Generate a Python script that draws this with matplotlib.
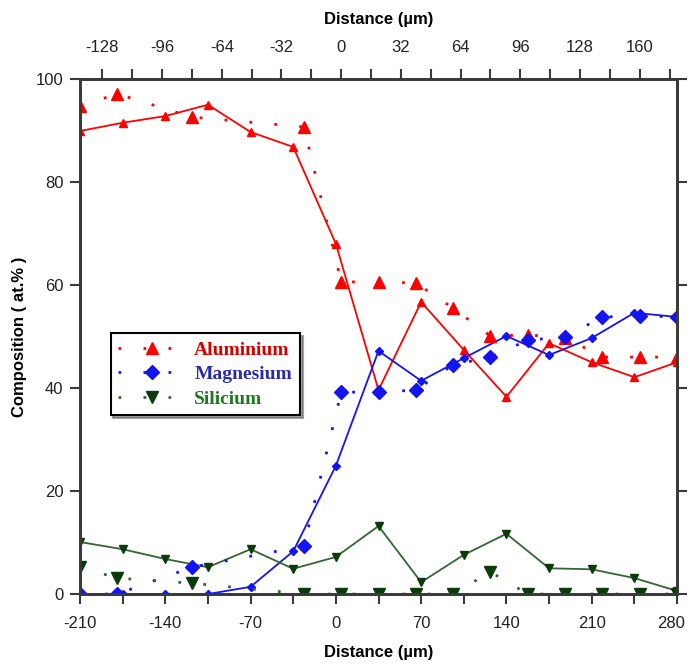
import numpy as np
import matplotlib
matplotlib.use("Agg")
import matplotlib.pyplot as plt
import matplotlib.transforms as mtransforms
from matplotlib.lines import Line2D

plt.rcParams['font.family'] = ['Liberation Sans', 'DejaVu Sans']
plt.rcParams['axes.unicode_minus'] = False

# profil 1 (axe du bas, lignes pleines)
x_bas = [-210, -175, -140, -105, -70, -35, 0, 35, 70, 105, 140, 175, 210, 245, 280]
al_bas = [89.9, 91.5, 92.8, 95.0, 89.7, 86.8, 68.0, 39.6, 56.7, 47.4, 38.3, 48.7, 45.0, 42.1, 45.0]
mg_bas = [0, 0, 0, 0, 1.4, 8.3, 24.9, 47.2, 41.4, 45.8, 50.1, 46.4, 49.7, 54.6, 53.8]
si_bas = [10.1, 8.7, 6.8, 5.2, 8.7, 4.9, 7.2, 13.2, 2.3, 7.6, 11.7, 5.0, 4.8, 3.1, 0.6]

# profil 2 (axe du haut, pointillés)
x_haut = [-140, -120, -80, -20, 0, 20, 40, 60, 80, 100, 120, 140, 160, 180]
al_haut = [94.8, 97.1, 92.6, 90.7, 60.6, 60.6, 60.4, 55.5, 50.1, 50.3, 49.8, 46.0, 46.0, 46.0]
mg_haut = [0, 0, 5.2, 9.3, 39.2, 39.2, 39.6, 44.5, 46.0, 49.3, 49.9, 53.8, 54.0, 53.8]
si_haut = [5.2, 3.1, 2.1, 0, 0, 0, 0, 0, 4.3, 0, 0, 0, 0, 0]

rouge = '#ff0000'
bleu = '#1414f0'
vert_l = '#336633'
vert_m = '#0b3a0b'

fig = plt.figure(figsize=(6.88, 6.67), dpi=100)
ax = fig.add_axes([0.1163, 0.1094, 0.8677, 0.7722])
ax2 = ax.twiny()

pointille = (0, (1, 8))

ax2.plot(x_haut, al_haut, linestyle=pointille, lw=2, color=rouge, marker='^', ms=9, mec=rouge)
ax2.plot(x_haut, mg_haut, linestyle=pointille, lw=2, color=bleu, marker='D', ms=7, mec=bleu)
ax2.plot(x_haut, si_haut, linestyle=pointille, lw=2, color=vert_l, marker='v', ms=9, mfc=vert_m, mec=vert_m)

ax.plot(x_bas, al_bas, '-', lw=1.3, color=rouge, marker='^', ms=6)
ax.plot(x_bas, mg_bas, '-', lw=1.3, color=bleu, marker='D', ms=4.5)
ax.plot(x_bas, si_bas, '-', lw=1.3, color=vert_l, marker='v', ms=6, mfc=vert_m, mec=vert_m)

ax.set_xlim(-210, 280)
ax.set_ylim(0, 100)
ax2.set_xlim(-140, 180)
ax.set_xticks(np.arange(-210, 281, 70))
ax.set_xticks(np.arange(-210, 281, 35), minor=True)
ax.set_yticks(np.arange(0, 101, 20))
ax2.set_xticks(np.arange(-128, 161, 32))
ax2.set_xticks(np.arange(-128, 177, 16), minor=True)

for a in (ax, ax2):
    for s in a.spines.values():
        s.set_color('#3a3a3a')
        s.set_linewidth(2)
    a.tick_params(which='both', direction='out', color='#3a3a3a', width=1.5, labelsize=12, labelcolor='#222222')
    a.tick_params(which='major', length=7)
    a.tick_params(which='minor', length=7)
ax.tick_params(axis='y', right=True, which='both', pad=5)
ax.tick_params(axis='x', pad=9)
ax2.tick_params(axis='x', pad=10)

# le "280" déborde à droite : on le décale un peu
dernier = ax.get_xticklabels()[-1]
dernier.set_transform(dernier.get_transform() + mtransforms.ScaledTranslation(-6 / 100, 0, fig.dpi_scale_trans))

ax.set_xlabel('Distance (µm)', fontweight='bold', fontsize=12, labelpad=10)
ax2.set_xlabel('Distance (µm)', fontweight='bold', fontsize=12, labelpad=12)
ax.set_ylabel('Composition ( at.% )', fontweight='bold', fontsize=12, labelpad=6)

handles = [
    Line2D([], [], linestyle=pointille, lw=2, color=rouge, marker='^', ms=9),
    Line2D([], [], linestyle=pointille, lw=2, color=bleu, marker='D', ms=7),
    Line2D([], [], linestyle=pointille, lw=2, color=vert_l, marker='v', ms=9, mfc=vert_m, mec=vert_m),
]
leg = ax2.legend(handles, ['Aluminium', 'Magnesium', 'Silicium'], loc='upper left',
                 bbox_to_anchor=(0.035, 0.525), fancybox=False, shadow=True, framealpha=1,
                 edgecolor='black', handlelength=3.5, handletextpad=0.4, borderpad=0.4,
                 labelspacing=0.35, prop={'family': 'Liberation Serif', 'weight': 'bold', 'size': 14})
leg.get_frame().set_linewidth(1.5)
for t, c in zip(leg.get_texts(), ['#d40000', '#2a2aa8', '#1f7a1f']):
    t.set_color(c)

fig.savefig('out.png', dpi=100)
